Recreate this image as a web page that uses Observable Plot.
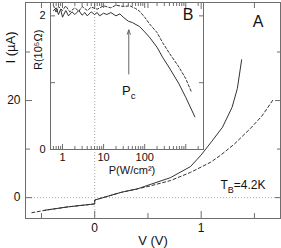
<!DOCTYPE html>
<html><head><meta charset="utf-8">
<script src="https://cdn.jsdelivr.net/npm/d3@7"></script>
<script src="https://cdn.jsdelivr.net/npm/@observablehq/plot@0.6"></script>
<style>
body{margin:0;background:#fff;}
#wrap{position:relative;width:281px;height:248px;}
#wrap svg{position:absolute;overflow:visible;}
</style></head><body><div id="wrap"></div>
<script>
// ---- Main panel A: I (µA) vs V (V)
const solidV = [-0.47, -0.25, 0, 0, 0.25, 0.4, 0.52, 0.71, 0.9, 1.0, 1.1, 1.2, 1.29, 1.34, 1.38];
const solidI = [-2.6, -1.9, -1.3, -0.5, 1.1, 1.8, 2.7, 4.1, 6.4, 8.8, 11.6, 14.5, 18.6, 22.5, 28.4];
const dashedV = [-0.59, -0.45, -0.25, 0, 0, 0.25, 0.4, 0.52, 0.71, 0.9, 1.09, 1.18, 1.31, 1.46, 1.57, 1.68];
const dashedI = [-3.1, -2.55, -1.9, -1.3, -0.5, 1.1, 1.8, 2.4, 3.5, 5.2, 7.3, 8.7, 11.0, 14.2, 16.8, 20.3];
const vLabelTicks = [0, 1];
const vMajorTicks = [0, 1];
const vMinorTicks = [-0.5, 0.5, 1.5];
const iLabelTicks = [0, 20];
const iMajorTicks = [0, 20];
const iMinorTicks = [10, 30];

// ---- Inset B: R (10^5 Ω) vs P (W/cm²)
const insetSolidP = [0.6, 0.7, 0.8, 0.9, 1.0, 1.2, 1.4, 1.7, 2.0, 2.5, 3, 3.5, 4, 5, 6, 7, 8, 10, 12, 15, 20, 25, 30, 40, 50, 75, 100, 131, 200, 273, 400, 687, 1000, 1660];
const insetSolidR = [2.08, 2.12, 2.02, 2.10, 1.98, 2.08, 2.00, 2.06, 2.02, 2.08, 2.01, 2.05, 2.00, 2.06, 2.02, 2.05, 2.00, 2.04, 2.02, 2.05, 2.00, 2.03, 1.98, 1.92, 1.90, 1.84, 1.76, 1.68, 1.53, 1.38, 1.22, 0.98, 0.78, 0.49];
const insetDashedP = [0.6, 0.7, 0.8, 1.0, 1.2, 1.5, 2, 2.5, 3, 4, 5, 7, 10, 15, 20, 30, 43.5, 60, 75, 100, 131, 200, 273, 400, 687, 1000, 1350];
const insetDashedR = [2.16, 2.05, 2.14, 2.08, 2.15, 2.06, 2.12, 2.07, 2.14, 2.08, 2.13, 2.10, 2.15, 2.12, 2.16, 2.14, 2.15, 2.11, 2.07, 1.98, 1.88, 1.75, 1.60, 1.44, 1.23, 1.06, 0.87];
const pMajorTicks = [1, 10, 100, 1000];
const pLabelTicks = [1, 10, 100];
const pMinorTicks = [0.6, 0.7, 0.8, 0.9, 2, 3, 4, 5, 6, 7, 8, 9, 20, 30, 40, 50, 60, 70, 80, 90, 200, 300, 400, 500, 600, 700, 800, 900, 2000];
const rTicks = [0, 1, 2];
const rLabelTicks = [0, 2];
const Pc = 41;            // critical power (arrow position)
const arrowR = [1.13, 1.79]; // arrow tail / head in R units
const pcLabelR = 0.88;

const font = "'Liberation Sans', Arial, Helvetica, sans-serif";
const axisColor = "#6e6e6e";
const lineColor = "#333";
const none = () => "";
const plain = d => String(d);

const toRows = (xs, ys) => xs.map((x, i) => ({x, y: ys[i]}));

const main = Plot.plot({
  width: 281, height: 248,
  marginLeft: 25, marginRight: 1, marginTop: 2, marginBottom: 30,
  style: {fontFamily: font, fontSize: "11px", background: "transparent", color: "#111", overflow: "visible"},
  x: {domain: [-0.65, 1.745]},
  y: {domain: [-4.3, 40.2]},
  marks: [
    Plot.ruleY([0], {stroke: "#aaa", strokeDasharray: "1,2"}),
    Plot.ruleX([0], {stroke: "#aaa", strokeDasharray: "1,2"}),
    Plot.line(toRows(dashedV, dashedI), {x: "x", y: "y", stroke: lineColor, strokeWidth: 1, strokeDasharray: "3,2.5"}),
    Plot.line(toRows(solidV, solidI), {x: "x", y: "y", stroke: lineColor, strokeWidth: 1}),
    Plot.frame({stroke: axisColor}),
    Plot.axisX(vLabelTicks, {anchor: "bottom", tickSize: 0, tickPadding: 5, label: null, tickFormat: plain, fontSize: 12}),
    Plot.axisX(vMajorTicks, {anchor: "bottom", tickSize: -7, tickFormat: none, label: null, stroke: axisColor}),
    Plot.axisX(vMinorTicks, {anchor: "bottom", tickSize: -5, tickFormat: none, label: null, stroke: axisColor}),
    Plot.axisX(vMajorTicks, {anchor: "top", tickSize: -6, tickFormat: none, label: null, stroke: axisColor}),
    Plot.axisX(vMinorTicks, {anchor: "top", tickSize: -5, tickFormat: none, label: null, stroke: axisColor}),
    Plot.axisY(iLabelTicks, {anchor: "left", tickSize: 0, tickPadding: 5, label: null, tickFormat: plain, fontSize: 12}),
    Plot.axisY(iMajorTicks, {anchor: "left", tickSize: -7, tickFormat: none, label: null, stroke: axisColor}),
    Plot.axisY(iMinorTicks, {anchor: "left", tickSize: -5, tickFormat: none, label: null, stroke: axisColor}),
    Plot.axisY(iMajorTicks, {anchor: "right", tickSize: -6, tickFormat: none, label: null, stroke: axisColor}),
    Plot.axisY(iMinorTicks, {anchor: "right", tickSize: -4, tickFormat: none, label: null, stroke: axisColor}),
    Plot.text(["V (V)"], {frameAnchor: "bottom", lineAnchor: "middle", dy: 22, fontSize: 13, fill: "#111"}),
    Plot.text(["I (µA)"], {frameAnchor: "left", lineAnchor: "middle", rotate: -90, dx: -15, dy: -47, fontSize: 13, fill: "#111"}),
    Plot.text(["A"], {frameAnchor: "top-right", lineAnchor: "middle", dx: -17, dy: 19, fontSize: 16, fill: "#111"}),
    Plot.text(["T_B=4.2K"], {frameAnchor: "bottom-right", lineAnchor: "middle", dx: -15, dy: -33, textAnchor: "end", fontSize: 12, fill: "#111"})
  ]
});

const inset = Plot.plot({
  width: 180, height: 180,
  marginLeft: 24, marginRight: 3, marginTop: 2, marginBottom: 31,
  style: {fontFamily: font, fontSize: "11px", background: "transparent", color: "#111", overflow: "visible"},
  x: {type: "log", domain: [0.51, 2700]},
  y: {domain: [0, 2.2]},
  marks: [
    Plot.line(toRows(insetDashedP, insetDashedR), {x: "x", y: "y", stroke: lineColor, strokeWidth: 1, strokeDasharray: "2.5,2"}),
    Plot.line(toRows(insetSolidP, insetSolidR), {x: "x", y: "y", stroke: lineColor, strokeWidth: 1}),
    Plot.arrow([{x: Pc, y1: arrowR[0], y2: arrowR[1]}], {x1: "x", x2: "x", y1: "y1", y2: "y2", stroke: "#666", strokeWidth: 1, headLength: 7, headAngle: 40}),
    Plot.text([{x: Pc, y: pcLabelR}], {x: "x", y: "y", text: () => "P_c", fontSize: 13, fill: "#111"}),
    Plot.frame({stroke: axisColor}),
    Plot.axisX(pLabelTicks, {anchor: "bottom", tickSize: 0, tickPadding: 4, label: null, tickFormat: plain, fontSize: 11}),
    Plot.axisX(pMajorTicks, {anchor: "bottom", tickSize: -5, tickFormat: none, label: null, stroke: axisColor}),
    Plot.axisX(pMinorTicks, {anchor: "bottom", tickSize: -3, tickFormat: none, label: null, stroke: axisColor}),
    Plot.axisX(pMajorTicks, {anchor: "top", tickSize: -5, tickFormat: none, label: null, stroke: axisColor}),
    Plot.axisX(pMinorTicks, {anchor: "top", tickSize: -3, tickFormat: none, label: null, stroke: axisColor}),
    Plot.axisY(rLabelTicks, {anchor: "left", tickSize: 0, tickPadding: 5, label: null, tickFormat: plain, fontSize: 11}),
    Plot.axisY(rTicks, {anchor: "left", tickSize: -5, tickFormat: none, label: null, stroke: axisColor}),
    Plot.axisY(rTicks, {anchor: "right", tickSize: -5, tickFormat: none, label: null, stroke: axisColor}),
    Plot.text(["P(W/cm²)"], {frameAnchor: "bottom", lineAnchor: "middle", dx: 5, dy: 21, fontSize: 11, fill: "#111"}),
    Plot.text(["R(10⁵Ω)"], {frameAnchor: "left", lineAnchor: "middle", rotate: -90, dx: -12, dy: -6, fontSize: 11, fill: "#111"}),
    Plot.text(["B"], {frameAnchor: "top-right", lineAnchor: "middle", dx: -10, dy: 12, fontSize: 16, fill: "#111"})
  ]
});

const wrap = document.getElementById("wrap");
main.style.left = "0px"; main.style.top = "0px";
inset.style.left = "26px"; inset.style.top = "0px";
wrap.appendChild(main);
wrap.appendChild(inset);

// subscripts: "X_s..." -> X with subscript s
function applySubscripts(svg) {
  d3.select(svg).selectAll("text").each(function() {
    if (this.querySelector("tspan")) return;
    const t = this.textContent;
    const m = t.match(/^(.*?)_(\w)(.*)$/);
    if (!m) return;
    const sel = d3.select(this);
    const fs = parseFloat(getComputedStyle(this).fontSize) || 12;
    sel.text(null);
    sel.append("tspan").text(m[1]);
    sel.append("tspan").attr("dy", fs * 0.3).style("font-size", (fs * 0.75) + "px").text(m[2]);
    if (m[3]) sel.append("tspan").attr("dy", -fs * 0.3).text(m[3]);
  });
}
applySubscripts(main);
applySubscripts(inset);
</script>
</body></html>
